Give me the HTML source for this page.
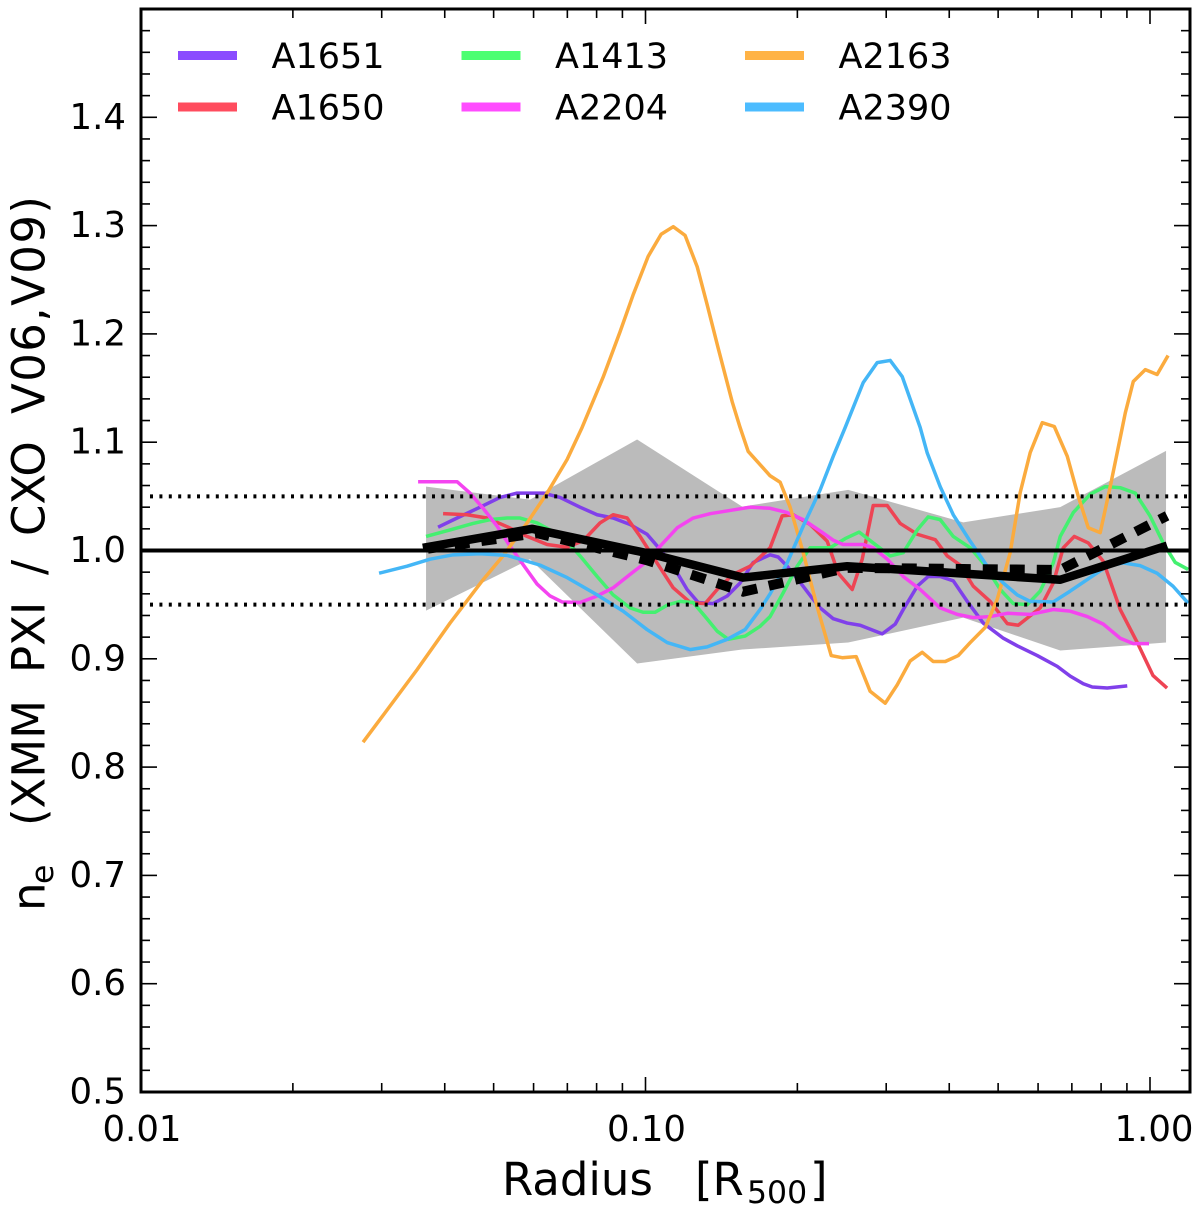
<!DOCTYPE html>
<html lang="en">
<head>
<meta charset="utf-8">
<title>Density ratio profiles</title>
<style>
html,body{margin:0;padding:0;background:#fff;width:1200px;height:1216px;overflow:hidden}
svg{display:block}
text{font-family:"DejaVu Sans","Liberation Sans",sans-serif;fill:#000}
</style>
</head>
<body>
<svg id="chart" width="1200" height="1216" viewBox="0 0 1200 1216" xmlns="http://www.w3.org/2000/svg">
  <defs><clipPath id="plot-clip"><rect x="141" y="9" width="1049" height="1083"/></clipPath></defs>
  <rect x="0" y="0" width="1200" height="1216" fill="#fff"/>
  <g id="marks" clip-path="url(#plot-clip)"></g>
  <g id="ticks"></g>
  <rect x="141" y="9" width="1049" height="1083" fill="none" stroke="#000" stroke-width="3"/>
  <g id="tick-labels"></g>
  <g id="legend"></g>
  <text y="1195" font-size="45"><tspan x="502">Radius</tspan><tspan x="695">[R</tspan><tspan x="747" y="1203" font-size="31.5">500</tspan><tspan x="810" y="1195">]</tspan></text>
  <g transform="translate(44.5,0) rotate(-90)" font-size="45">
    <text x="-911" y="0" font-size="45">n</text>
    <text x="-884" y="8.5" font-size="31.5">e</text>
    <text x="-826" y="0">(XMM</text>
    <text x="-673" y="0">PXI</text>
    <text x="-575" y="0">/</text>
    <text x="-536" y="0">CXO</text>
    <text x="-414" y="0" textLength="218">V06,V09)</text>
  </g>
</svg>
<script>
const xMajorTicks = [0.01, 0.1, 1];
const xTickLabels = ["0.01", "0.10", "1.00"];
const xMinorTicks = [0.02,0.03,0.04,0.05,0.06,0.07,0.08,0.09,0.2,0.3,0.4,0.5,0.6,0.7,0.8,0.9];
const yTickValues = [0.5,0.6,0.7,0.8,0.9,1.0,1.1,1.2,1.3,1.4];
const yTickLabels = ["0.5","0.6","0.7","0.8","0.9","1.0","1.1","1.2","1.3","1.4"];
const xDomain = [0.01, 1.2];
const yDomain = [0.5, 1.5];

const a1651R = [.0388,.04232,.04699,.05148,.05565,.05904,.06267,.06771,.07418,.08019,.08626,.0932,.1007,.1069,.1135,.1209,.1272,.1362,.1452,.154,.1635,.1766,.1832,.1909,.2007,.214,.2219,.2356,.2511,.2664,.2946,.3126,.3243,.3457,.3634,.3838,.4074,.4343,.4672,.5119,.5456,.5978,.6549,.6948,.7375,.7683,.8229,.9014];
const a1651Y = [1.0215,1.03,1.04,1.049,1.053,1.053,1.053,1.049,1.04,1.033,1.03,1.024,1.015,1.001,.9855,.964,.952,.951,.958,.97,.989,.996,.994,.9855,.973,.956,.947,.937,.933,.931,.923,.932,.9455,.967,.976,.976,.972,.953,.933,.919,.912,.903,.893,.884,.877,.874,.873,.875];

const a1650R = [.0397,.04429,.04853,.05316,.05825,.06382,.06992,.07522,.08127,.08626,.09195,.09756,.1054,.1135,.1226,.1313,.1387,.1492,.1612,.1766,.1866,.1962,.212,.2292,.241,.2569,.2689,.2827,.3014,.3198,.3457,.3753,.3964,.4205,.4464,.4822,.5213,.548,.6059,.6431,.6731,.7078,.7545,.808,.8729,.9436,1.014,1.081];
const a1650Y = [1.034,1.033,1.03,1.022,1.013,1.0055,1.003,1.009,1.0255,1.033,1.03,1.013,.9885,.9655,.952,.951,.964,.978,.9855,1.0025,1.032,1.033,1.024,1.0085,.979,.964,.992,1.0415,1.0415,1.025,1.015,1.01,.995,.9865,.967,.953,.9325,.931,.947,.97,1.0025,1.013,1.007,.99,.9455,.915,.8845,.873];

const a1413R = [.03673,.04098,.04552,.04919,.05316,.05641,.06097,.06469,.06992,.07418,.08019,.08626,.0932,.09893,.1045,.1109,.1171,.1243,.1313,.1387,.1459,.1576,.1687,.1766,.1875,.1998,.212,.2323,.2488,.2652,.2827,.3055,.3243,.3457,.3634,.3838,.4074,.4402,.4672,.5048,.5357,.5711,.6059,.6431,.6638,.7045,.7612,.8154,.8729,.9351,1.0,1.062,1.122,1.19];
const a1413Y = [1.013,1.019,1.025,1.0285,1.03,1.03,1.0255,1.019,1.0085,.995,.976,.959,.947,.943,.943,.95,.953,.952,.939,.9255,.918,.921,.93,.939,.961,.9855,1.0025,1.0025,1.011,1.017,1.007,.995,.998,1.019,1.031,1.0285,1.013,1.0025,.9885,.964,.951,.95,.9625,.9885,1.013,1.035,1.052,1.059,1.058,1.053,1.032,1.007,.989,.9825];

const a2204R = [.03542,.04232,.04489,.04765,.0508,.05389,.0572,.06097,.06469,.06834,.07418,.08019,.08626,.0932,.1007,.1069,.1156,.1243,.1343,.1471,.1612,.1766,.1909,.2054,.2219,.2356,.2465,.2701,.2827,.3014,.3243,.3503,.3838,.4149,.4464,.4822,.5213,.5789,.6431,.6948,.7511,.808,.8729,.9265,.9955];
const a2204Y = [1.0635,1.0635,1.053,1.039,1.0225,1.004,.987,.969,.958,.9525,.952,.958,.9655,.978,.99,1.004,1.021,1.03,1.034,1.037,1.04,1.039,1.035,1.0285,1.018,1.0095,1.0055,1.0055,1.0025,.992,.976,.964,.947,.941,.938,.939,.942,.941,.9455,.944,.939,.932,.919,.914,.914];

const a2163R = [.02755,.02977,.03526,.04098,.04765,.0522,.05825,.06382,.06992,.07487,.08241,.08904,.0945,.1012,.1074,.1135,.1198,.1266,.1325,.1393,.1485,.154,.1598,.1766,.1849,.1935,.2054,.2189,.2334,.2454,.2616,.2788,.2987,.3155,.3347,.3536,.3718,.3928,.4168,.4402,.4715,.498,.5283,.553,.5789,.6116,.6461,.6855,.7208,.7545,.7968,.834,.8729,.8933,.9265,.9788,1.033,1.086];
const a2163Y = [.823,.844,.89,.933,.973,.995,1.0255,1.053,1.084,1.1136,1.16,1.202,1.236,1.2715,1.292,1.299,1.291,1.262,1.227,1.187,1.1375,1.1136,1.0915,1.069,1.063,1.04,.998,.948,.903,.901,.902,.87,.859,.876,.898,.906,.8975,.8975,.903,.915,.929,.955,.998,1.0535,1.0905,1.118,1.1145,1.087,1.05,1.021,1.0165,1.059,1.104,1.127,1.156,1.167,1.1625,1.18];

const a2390R = [.02964,.03368,.0374,.04155,.04699,.05316,.0618,.06992,.08019,.09029,.1007,.1104,.1226,.1325,.1452,.1576,.1687,.1766,.1909,.2054,.2219,.2356,.2488,.2701,.2879,.3055,.3228,.3503,.3618,.3838,.4074,.4402,.4758,.5119,.5456,.5789,.6431,.6948,.7612,.8229,.8851,.9564,1.033,1.111,1.19];
const a2390Y = [.979,.9855,.992,.996,.997,.9955,.9865,.975,.959,.944,.927,.915,.9085,.911,.918,.927,.9455,.96,.9885,1.0225,1.056,1.087,1.1136,1.155,1.1735,1.1755,1.1605,1.1136,1.09,1.059,1.033,1.0085,.9855,.97,.959,.953,.9525,.9625,.975,.9855,.9885,.986,.979,.967,.9515];

const bandR = [.03673,.05904,.09625,.1555,.2522,.4264,.6638,1.076];
const bandUpper = [1.059,1.047,1.1025,1.0405,1.056,1.026,1.04,1.092];
const bandLower = [.9445,.992,.8957,.9086,.915,.938,.9077,.915];

const meanR = [.0362,.0596,.1021,.1562,.2511,.6638,1.081];
const meanY = [1.0025,1.02,.997,.975,.9855,.973,1.0045];
const dashedR = [.0362,.06097,.1007,.1562,.2511,.6638,1.081];
const dashedY = [1.001,1.016,.991,.962,.984,.982,1.032];

const unityY = 1.0;
const upperBoundY = 1.05;
const lowerBoundY = 0.95;

const seriesNames = ["A1651","A1650","A1413","A2204","A2163","A2390"];
const seriesColors = ["#8040ea","#ee4454","#44f070","#f444f0","#fbab3e","#44b6f6"];
const seriesR = [a1651R,a1650R,a1413R,a2204R,a2163R,a2390R];
const seriesY = [a1651Y,a1650Y,a1413Y,a2204Y,a2163Y,a2390Y];
const legendColors = ["#8a4cff","#ff4c5e","#4cff72","#ff4cff","#ffb346","#4cbcff"];

const plotLeft = 141, plotRight = 1190, plotTop = 9, plotBottom = 1092;
const NS = "http://www.w3.org/2000/svg";
function xScale(r){
  return plotLeft + 504.5 * (Math.log10(r) - Math.log10(xDomain[0]));
}
function yScale(v){
  return plotBottom - (v - yDomain[0]) / (yDomain[1] - yDomain[0]) * (plotBottom - plotTop);
}
function make(tag, parent, attrs){
  const el = document.createElementNS(NS, tag);
  for (const k in attrs) el.setAttribute(k, attrs[k]);
  parent.appendChild(el);
  return el;
}
function pathD(rs, ys){
  return rs.map(function(r, i){
    return (i ? "L" : "M") + xScale(r).toFixed(2) + " " + yScale(ys[i]).toFixed(2);
  }).join(" ");
}

const marks = document.getElementById("marks");
const ticksG = document.getElementById("ticks");
const labelsG = document.getElementById("tick-labels");
const legendG = document.getElementById("legend");

const bandD = pathD(bandR, bandUpper) + " L" + bandR.slice().reverse().map(function(r, i){
  return xScale(r).toFixed(2) + " " + yScale(bandLower[bandLower.length - 1 - i]).toFixed(2);
}).join(" L") + " Z";
const band = make("path", marks, {d: bandD, fill: "#bbbbbb", stroke: "none"});



seriesNames.forEach(function(name, i){
  const line = make("path", marks, {d: pathD(seriesR[i], seriesY[i]), fill: "none", stroke: seriesColors[i], "stroke-width": 3.5, "stroke-linejoin": "round"});
  
  
});

[[upperBoundY, 'upper-bound-dotted-line'], [lowerBoundY, 'lower-bound-dotted-line']].forEach(function(item){
  const dotted = make("line", marks, {x1: 150, x2: plotRight, y1: yScale(item[0]), y2: yScale(item[0]), stroke: "#000", "stroke-width": 4, "stroke-dasharray": "3 6.4"});
  
  
});

const unity = make("line", marks, {x1: plotLeft, x2: plotRight, y1: yScale(unityY), y2: yScale(unityY), stroke: "#000", "stroke-width": 4});



const dashed = make("path", marks, {d: pathD(dashedR, dashedY), fill: "none", stroke: "#000", "stroke-width": 10, "stroke-dasharray": "15 12", "stroke-dashoffset": -5});



const mean = make("path", marks, {d: pathD(meanR, meanY), fill: "none", stroke: "#000", "stroke-width": 8.5, "stroke-linejoin": "round"});



function addTick(x1, y1, x2, y2, w){
  const t = make("line", ticksG, {x1: x1, y1: y1, x2: x2, y2: y2, stroke: "#000", "stroke-width": w});
  
  
}
xMajorTicks.forEach(function(v, i){
  const x = xScale(v);
  if (i > 0) {
    addTick(x, plotBottom, x, plotBottom - 15, 1.6);
    addTick(x, plotTop, x, plotTop + 15, 1.6);
  }
  const lab = make("text", labelsG, {x: x + (i === 2 ? 4 : 1), y: 1141, "font-size": 35.5, "text-anchor": "middle"});
  lab.textContent = xTickLabels[i];
  
  
});
xMinorTicks.forEach(function(v){
  const x = xScale(v);
  addTick(x, plotBottom, x, plotBottom - 9, 1.6);
  addTick(x, plotTop, x, plotTop + 9, 1.6);
});
for (let k = 1; k < 50; k++) {
  const v = yDomain[0] + k * 0.02;
  const y = yScale(v);
  const len = k % 5 === 0 ? 16 : 9;
  addTick(plotLeft, y, plotLeft + len, y, 1.6);
  addTick(plotRight, y, plotRight - len, y, 1.6);
}
yTickValues.forEach(function(v, i){
  const lab = make("text", labelsG, {x: 126, y: yScale(v) + 11.5, "font-size": 35.5, "text-anchor": "end"});
  lab.textContent = yTickLabels[i];
  
  
});

const legendColumnX = [178, 461.5, 745];
const legendRowY = [55.5, 107];
seriesNames.forEach(function(name, i){
  const col = Math.floor(i / 2), row = i % 2;
  const x = legendColumnX[col], y = legendRowY[row];
  const swatch = make("rect", legendG, {x: x, y: y - 4.5, width: 59, height: 9, fill: legendColors[i]});
  
  
  const label = make("text", legendG, {x: x + 93.5, y: y + 12.5, "font-size": 35});
  label.textContent = name;
  
  
});
</script>
</body>
</html>
